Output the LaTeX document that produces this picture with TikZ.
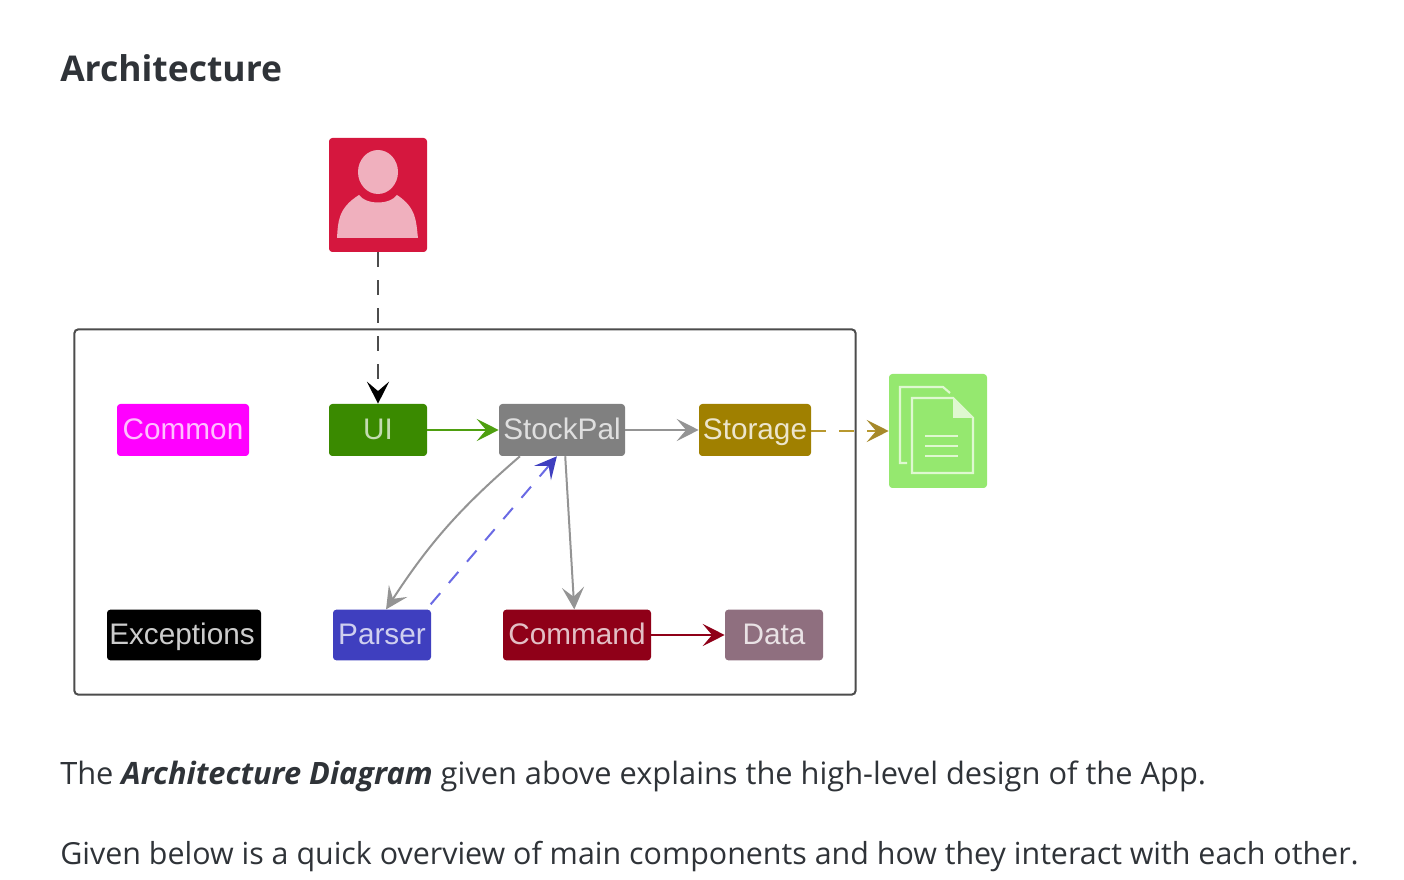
\documentclass[tikz,border=0pt]{standalone}
\usepackage{fontspec}
\setmainfont{Open Sans}
\newfontfamily\labelfont{Liberation Sans}
\usetikzlibrary{arrows.meta}
\definecolor{actorred}{HTML}{D5173E}
\definecolor{actorpale}{HTML}{F0B0BE}
\definecolor{magentabox}{HTML}{FF00FF}
\definecolor{uigreen}{HTML}{3A8A00}
\definecolor{uiarrow}{HTML}{4E9F10}
\definecolor{palegray}{HTML}{808080}
\definecolor{storagegold}{HTML}{A08000}
\definecolor{storagearrow}{HTML}{B8982F}
\definecolor{parserblue}{HTML}{3F3FBF}
\definecolor{parserarrow}{HTML}{6A6AE4}
\definecolor{commandred}{HTML}{8F0018}
\definecolor{datamauve}{HTML}{8F6F7F}
\definecolor{filegreen}{HTML}{95E86F}
\definecolor{filepale}{HTML}{DFF8D0}
\definecolor{bodytext}{HTML}{2F3338}
\tikzset{
	comp/.style={rectangle, rounded corners=2.5pt, inner sep=0pt, text=white, minimum height=38pt,
		text height=15pt, text depth=1pt, font=\labelfont\fontsize{22.3}{22}\selectfont},
	bodyline/.style={anchor=base west, inner sep=0pt, text=bodytext, font=\fontsize{22.8}{26}\selectfont},
	link/.style={line width=1.5pt, -{Stealth[length=16.5pt, width=16.5pt, inset=7pt]}},
	dashlink/.style={line width=1.5pt, dash pattern=on 11pt off 10pt,
		-{Stealth[length=16.5pt, width=16.5pt, inset=7pt, color=#1]}},
}
\begin{document}
\begin{tikzpicture}[x=0.75pt, y=-0.75pt]
	\useasboundingbox (0,0) rectangle (1404,880);

	% Heading and text
	\node[bodyline, font=\bfseries\fontsize{26.6}{34}\selectfont] (title) at (60,82) {Architecture};
	\node[bodyline, font=\fontsize{23.1}{26}\selectfont] (line1) at (60,784) {The \textbf{\textit{Architecture Diagram}} given above explains the high-level design of the App.};
	\node[bodyline] (line2) at (60,864) {Given below is a quick overview of main components and how they interact with each other.};

	% Enclosing box
	\node[draw=black!70, line width=1.5pt, rounded corners=3pt, minimum width=586pt, minimum height=274pt, inner sep=0pt] (frame) at (465,512) {};

	% Actor and file
	\node[comp, fill=actorred, minimum width=73.5pt, minimum height=85.5pt] (actor) at (378,195) {};
	\node[comp, fill=filegreen, minimum width=73.5pt, minimum height=85.5pt] (file) at (938,431) {};

	% Components, top row
	\node[comp, fill=magentabox, text=white!75!magentabox, minimum width=99pt, minimum height=39pt] (common) at (183,430) {Common};
	\node[comp, fill=uigreen, text=white!70!uigreen, minimum width=73.5pt, minimum height=39pt] (ui) at (378,430) {UI};
	\node[comp, fill=palegray, text=white!75!palegray, minimum width=94.5pt, minimum height=39pt] (stockpal) at (562,430) {StockPal};
	\node[comp, fill=storagegold, text=white!80!storagegold, minimum width=84pt, minimum height=39pt] (storage) at (755,430) {Storage};

	% Components, bottom row
	\node[comp, fill=black, text=white!80!black, minimum width=115.5pt] (exceptions) at (184,635) {\hspace*{-3pt}Exceptions};
	\node[comp, fill=parserblue, text=white!75!parserblue, minimum width=73.5pt] (parser) at (382,635) {Parser};
	\node[comp, fill=commandred, text=white!75!commandred, minimum width=111pt] (command) at (577,635) {Command};
	\node[comp, fill=datamauve, text=white!80!datamauve, minimum width=73.5pt] (data) at (774,635) {Data};

	% Actor icon
	\fill[actorpale] (378,172) ellipse [x radius=20, y radius=22];
	\fill[actorpale] (337,238) .. controls (338,222) and (338,208) .. (359,195)
		.. controls (366,205) and (390,205) .. (397,195)
		.. controls (417,208) and (416,222) .. (418,238) -- cycle;

	% File icon
	\draw[filepale, line width=1.6pt] (907,463) -- (900,463) -- (900,387) -- (943,387) -- (950,393);
	\draw[filepale, line width=1.6pt] (912,398) -- (953,398) -- (973,418) -- (973,473) -- (912,473) -- cycle;
	\fill[filepale] (953,399) -- (953,418) -- (972,418) -- cycle;
	\foreach \liney in {436,446,456}
		\draw[filepale, line width=1.6pt] (925,\liney) -- (958,\liney);

	% Connections
	\draw[dashlink=black, black!70] (actor.south) -- (ui.north);
	\draw[link, uiarrow] (ui) -- (stockpal);
	\draw[link, black!42] (stockpal) -- (storage);
	\draw[dashlink=storagearrow!90!black, storagearrow] (storage.east |- file.west) -- (file.west);
	\draw[link, black!42] (stockpal.212) to[bend right=8] (parser.81);
	\draw[dashlink=parserblue, parserarrow, shorten <=5pt] (parser.30) -- (stockpal.259);
	\draw[link, black!42] (stockpal.277) -- (command.96);
	\draw[link, commandred] (command) -- (data);
\end{tikzpicture}
\end{document}
